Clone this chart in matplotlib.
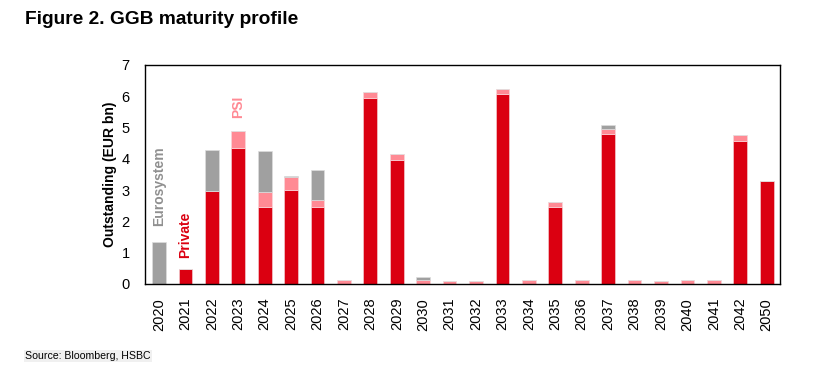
import numpy as np
import matplotlib
matplotlib.use('Agg')
import matplotlib.pyplot as plt

plt.rcParams['font.family'] = ['Liberation Sans', 'DejaVu Sans']

years = ['2020', '2021', '2022', '2023', '2024', '2025', '2026', '2027', '2028', '2029',
         '2030', '2031', '2032', '2033', '2034', '2035', '2036', '2037', '2038', '2039',
         '2040', '2041', '2042', '2050']
# EUR bn
private = [0.0, 0.48, 2.97, 4.34, 2.47, 3.0, 2.47, 0.0, 5.95, 3.97,
           0.0, 0.0, 0.0, 6.08, 0.0, 2.47, 0.0, 4.8, 0.0, 0.0,
           0.0, 0.0, 4.58, 3.29]
psi = [0.0, 0.0, 0.0, 0.56, 0.46, 0.42, 0.21, 0.14, 0.19, 0.18,
       0.13, 0.1, 0.1, 0.15, 0.13, 0.16, 0.14, 0.14, 0.13, 0.1,
       0.12, 0.12, 0.17, 0.0]
eurosystem = [1.34, 0.0, 1.32, 0.0, 1.32, 0.04, 0.96, 0.0, 0.0, 0.0,
              0.1, 0.0, 0.0, 0.0, 0.0, 0.0, 0.0, 0.14, 0.0, 0.0,
              0.0, 0.0, 0.0, 0.0]

RED = '#DB0011'
PINK = '#FF8A94'
GREY = '#A0A0A0'

fig = plt.figure(figsize=(8.16, 3.89), dpi=100)
ax = fig.add_axes([0.1777, 0.27, 0.778, 0.563])

x = np.arange(len(years))
p = np.array(private); s = np.array(psi); e = np.array(eurosystem)
w = 0.52
ax.bar(x, p, w, color=RED, edgecolor='#f3c9cc', linewidth=0.5)
ax.bar(x, s, w, bottom=p, color=PINK, edgecolor='#f9d6d9', linewidth=0.5)
ax.bar(x, e, w, bottom=p + s, color=GREY, edgecolor='#dddddd', linewidth=0.5)

ax.set_xlim(-0.53, 23.5)
ax.set_ylim(0, 7)
ax.set_xticks(x)
ax.set_xticklabels(years, rotation=90, fontsize=10.5)
ax.set_yticks(range(8))
ax.tick_params(axis='both', length=0)
ax.tick_params(axis='y', pad=11, labelsize=10.5)
ax.tick_params(axis='x', pad=10)
for sp in ax.spines.values():
    sp.set_linewidth(1.0)
ax.set_ylabel('Outstanding (EUR bn)', fontsize=10, fontweight='bold', labelpad=3)

ax.text(0, 3.13, 'Eurosystem', rotation=90, ha='center', va='center', color='#909090',
        fontsize=10, fontweight='bold')
ax.text(1, 1.57, 'Private', rotation=90, ha='center', va='center', color=RED,
        fontsize=10, fontweight='bold')
ax.text(3, 5.66, 'PSI', rotation=90, ha='center', va='center', color=PINK,
        fontsize=10, fontweight='bold')

fig.text(25/816, 1 - 20/389, 'Figure 2. GGB maturity profile', fontsize=13.8,
         fontweight='bold', ha='left', va='center')
fig.text(25/816, 1 - 356/389, 'Source: Bloomberg, HSBC', fontsize=7.6, ha='left', va='center',
         bbox=dict(facecolor='#f0f0f0', edgecolor='none', pad=1))

fig.savefig('out.png', dpi=100)
